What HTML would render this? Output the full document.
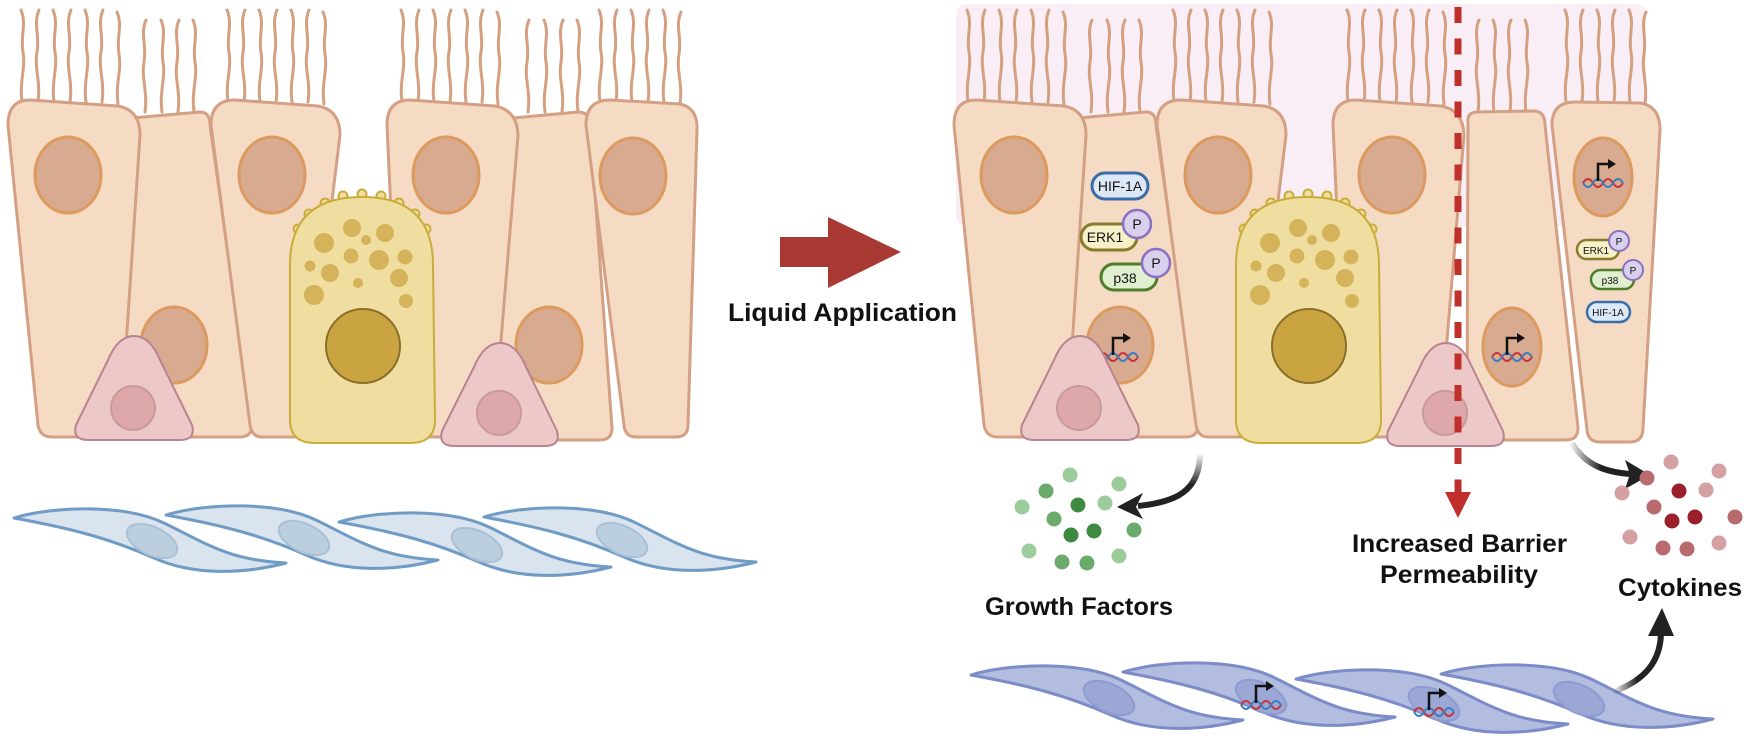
<!DOCTYPE html>
<html><head><meta charset="utf-8"><style>
html,body{margin:0;padding:0;background:#fff;}
svg{display:block;}
text{font-family:"Liberation Sans",Arial,sans-serif;font-weight:bold;fill:#111;}
</style></head><body>
<svg width="1748" height="740" viewBox="0 0 1748 740" xmlns="http://www.w3.org/2000/svg">
<defs>
<linearGradient id="fadeG" x1="0" y1="0" x2="0" y2="1"><stop offset="0" stop-color="#222" stop-opacity="0"/><stop offset="0.6" stop-color="#222"/></linearGradient>
<linearGradient id="fadeC" x1="0" y1="0" x2="1" y2="0"><stop offset="0" stop-color="#222" stop-opacity="0.1"/><stop offset="0.5" stop-color="#222"/></linearGradient>
<linearGradient id="fadeU" x1="0" y1="0" x2="1" y2="0"><stop offset="0" stop-color="#222" stop-opacity="0"/><stop offset="0.5" stop-color="#222"/></linearGradient>
<path id="ci" d="M0,0 C-3,-20 4,-34 1,-50 C-2,-66 5,-78 -1,-92" fill="none" stroke="#d4a080" stroke-width="3" stroke-linecap="round"/>
<path id="ci2" d="M0,0 C3,-20 -4,-34 -1,-50 C2,-66 -5,-78 1,-92" fill="none" stroke="#d4a080" stroke-width="3" stroke-linecap="round"/>
<g id="dna">
<path d="M-20,5 q5,-8 10,0 t10,0 t10,0 t10,0" stroke="#c8323a" stroke-width="2" fill="none"/>
<path d="M-20,5 q5,8 10,0 t10,0 t10,0 t10,0" stroke="#3a7ec0" stroke-width="2" fill="none"/>
<path d="M-5,3 V-14 H6" stroke="#111" stroke-width="2.5" fill="none"/>
<path d="M5,-19 L13,-14 L5,-9Z" fill="#111"/>
</g>
<path id="fib" d="M0,0 C40,-12 110,-14 150,5 C195,27 215,42 272,45 C230,56 180,58 140,40 C95,20 55,10 0,0 Z"/>

<g id="ciliaL">
<use href="#ci" x="22" y="102"/><use href="#ci2" x="38" y="102"/><use href="#ci" x="54" y="102"/><use href="#ci2" x="70" y="102"/><use href="#ci" x="86" y="102"/><use href="#ci2" x="102" y="102"/><use href="#ci" x="118" y="104"/>
<use href="#ci2" x="145" y="112"/><use href="#ci" x="162" y="112"/><use href="#ci2" x="178" y="112"/><use href="#ci" x="194" y="112"/>
<use href="#ci" x="228" y="102"/><use href="#ci2" x="244" y="102"/><use href="#ci" x="260" y="102"/><use href="#ci2" x="276" y="102"/><use href="#ci" x="292" y="102"/><use href="#ci2" x="308" y="102"/><use href="#ci" x="324" y="104"/>
<use href="#ci" x="402" y="102"/><use href="#ci2" x="418" y="102"/><use href="#ci" x="434" y="102"/><use href="#ci2" x="450" y="102"/><use href="#ci" x="466" y="102"/><use href="#ci2" x="482" y="102"/><use href="#ci" x="498" y="104"/>
</g>

<g id="backL" stroke-width="3" stroke-linejoin="round">
<path d="M132,118 L200,112 Q210,112 210,125 L252,425 Q252,437 240,437 L127,437 Q115,437 115,425 Z" fill="#f5dbc4" stroke="#d4a084"/>
<ellipse cx="174" cy="345" rx="33" ry="38" fill="#d8aa90" stroke="#dc9a5e"/>
</g>
<g id="frontL" stroke-width="3" stroke-linejoin="round">
<path d="M8,125 Q8,100 30,100 L118,106 Q140,110 140,135 L120,437 L52,437 Q40,437 38,425 Z" fill="#f5dbc4" stroke="#d4a084"/>
<ellipse cx="68" cy="175" rx="33" ry="38" fill="#d8aa90" stroke="#dc9a5e"/>
<path d="M211,125 Q211,100 235,100 L318,106 Q340,110 340,135 L320,300 L305,437 L262,437 Q252,437 250,425 Z" fill="#f5dbc4" stroke="#d4a084"/>
<ellipse cx="272" cy="175" rx="33" ry="38" fill="#d8aa90" stroke="#dc9a5e"/>
<path d="M387,125 Q387,100 410,100 L495,106 Q517,110 518,135 L493,437 L420,437 L395,300 Z" fill="#f5dbc4" stroke="#d4a084"/>
<ellipse cx="446" cy="175" rx="33" ry="38" fill="#d8aa90" stroke="#dc9a5e"/>
</g>
<g id="goblet">
<g fill="#f0dea0" stroke="#c9ad3a" stroke-width="2">
<circle cx="298" cy="229" r="4.5"/><circle cx="309" cy="214" r="4.5"/><circle cx="325" cy="203" r="4.5"/><circle cx="343" cy="196" r="4.5"/><circle cx="362" cy="194" r="4.5"/><circle cx="381" cy="196" r="4.5"/><circle cx="399" cy="203" r="4.5"/><circle cx="415" cy="214" r="4.5"/><circle cx="426" cy="229" r="4.5"/>
</g>
<path d="M290,265 Q290,197 362,197 Q433,197 433,265 L435,420 Q435,443 410,443 L315,443 Q290,443 290,420 Z" fill="#f0dea0" stroke="#c9ad3a" stroke-width="2"/>
<g fill="#d4b35a">
<circle cx="324" cy="243" r="10"/><circle cx="352" cy="228" r="9"/><circle cx="385" cy="233" r="9"/><circle cx="366" cy="240" r="5"/><circle cx="351" cy="256" r="7.5"/><circle cx="379" cy="260" r="10"/><circle cx="405" cy="257" r="7.5"/><circle cx="310" cy="266" r="5.5"/><circle cx="330" cy="273" r="9"/><circle cx="399" cy="278" r="9"/><circle cx="358" cy="283" r="5"/><circle cx="314" cy="295" r="10"/><circle cx="406" cy="301" r="7"/>
</g>
<ellipse cx="363" cy="346" rx="37" ry="37" fill="#c9a440" stroke="#8a6e2a" stroke-width="2"/>
</g>
<g id="pinks" stroke-width="2" stroke-linejoin="round">
<path d="M134,336 Q150,336 160,360 L192,425 Q196,440 180,440 L88,440 Q72,440 76,425 L108,360 Q118,336 134,336 Z" fill="#ecc9c8" stroke="#b98390"/>
<circle cx="133" cy="408" r="22" fill="#dea8aa" stroke="#c99a9c"/>
<path d="M500,343 Q516,343 526,367 L557,431 Q561,446 545,446 L454,446 Q438,446 442,431 L474,367 Q484,343 500,343 Z" fill="#ecc9c8" stroke="#b98390"/>
<circle cx="499" cy="413" r="22" fill="#dea8aa" stroke="#c99a9c"/>
</g>
</defs>

<use href="#ciliaL"/>
<g>
<use href="#ci2" x="528" y="112"/><use href="#ci" x="545" y="112"/><use href="#ci2" x="562" y="112"/><use href="#ci" x="578" y="112"/>
<use href="#ci" x="600" y="102"/><use href="#ci2" x="616" y="102"/><use href="#ci" x="632" y="102"/><use href="#ci2" x="648" y="102"/><use href="#ci" x="664" y="102"/><use href="#ci2" x="680" y="104"/>
</g>
<use href="#backL"/>
<g stroke-width="3" stroke-linejoin="round">
<path d="M513,118 L578,112 Q590,112 590,125 L612,428 Q612,440 600,440 L500,440 Q490,440 491,428 Z" fill="#f5dbc4" stroke="#d4a084"/>
<ellipse cx="549" cy="345" rx="33" ry="38" fill="#d8aa90" stroke="#dc9a5e"/>
</g>
<use href="#frontL"/>
<g stroke-width="3" stroke-linejoin="round">
<path d="M586,125 Q586,100 610,100 L680,104 Q698,108 697,130 L688,425 Q688,437 676,437 L636,437 Q625,437 624,425 Z" fill="#f5dbc4" stroke="#d4a084"/>
<ellipse cx="633" cy="176" rx="33" ry="38" fill="#d8aa90" stroke="#dc9a5e"/>
</g>
<use href="#goblet"/>
<use href="#pinks"/>

<g fill="#d9e4ee" stroke="#6f9bc4" stroke-width="3" stroke-linejoin="round">
<use href="#fib" x="14" y="518"/><use href="#fib" x="166" y="515"/><use href="#fib" x="339" y="522"/><use href="#fib" x="484" y="517"/>
</g>
<g fill="#bccfdf" stroke="#a9c0d6" stroke-width="2">
<ellipse cx="152" cy="541" rx="27" ry="14" transform="rotate(25 152 541)"/>
<ellipse cx="304" cy="538" rx="27" ry="14" transform="rotate(25 304 538)"/>
<ellipse cx="477" cy="545" rx="27" ry="14" transform="rotate(25 477 545)"/>
<ellipse cx="622" cy="540" rx="27" ry="14" transform="rotate(25 622 540)"/>
</g>

<path d="M780,237 H828 V217 L901,252 L828,288 V267 H780 Z" fill="#a93a33"/>
<text x="728" y="321" font-size="25" textLength="229" lengthAdjust="spacingAndGlyphs">Liquid Application</text>

<rect x="956" y="4" width="690" height="222" rx="10" fill="#f9eef5"/>
<use href="#ciliaL" x="946"/>
<g>
<use href="#ci2" x="1478" y="112"/><use href="#ci" x="1494" y="112"/><use href="#ci2" x="1510" y="112"/><use href="#ci" x="1526" y="112"/>
<use href="#ci" x="1566" y="102"/><use href="#ci2" x="1582" y="102"/><use href="#ci" x="1598" y="102"/><use href="#ci2" x="1614" y="102"/><use href="#ci" x="1630" y="102"/><use href="#ci2" x="1645" y="104"/>
</g>
<use href="#backL" x="946"/>
<use href="#frontL" x="946"/>
<g stroke-width="3" stroke-linejoin="round">
<path d="M1468,120 Q1468,112 1478,112 L1535,111 Q1545,112 1545,125 L1578,428 Q1578,440 1566,440 L1479,440 Q1467,440 1467,428 Z" fill="#f5dbc4" stroke="#d4a084"/>
<ellipse cx="1512" cy="347" rx="29" ry="39" fill="#d8aa90" stroke="#dc9a5e"/>
<path d="M1552,125 Q1552,102 1575,102 L1640,103 Q1660,106 1660,130 L1643,428 Q1643,442 1630,442 L1600,442 Q1588,442 1587,430 Z" fill="#f5dbc4" stroke="#d4a084"/>
<ellipse cx="1603" cy="177" rx="29" ry="39" fill="#d8aa90" stroke="#dc9a5e"/>
</g>
<use href="#goblet" x="946"/>
<use href="#dna" x="1118" y="352"/>
<use href="#dna" x="1512" y="352"/>
<use href="#dna" x="1603" y="178"/>
<use href="#pinks" x="946"/>

<g font-size="14">
<rect x="1092" y="173" width="56" height="26" rx="13" fill="#dce8f5" stroke="#3b6ea8" stroke-width="3"/>
<text x="1120" y="191" text-anchor="middle" style="font-weight:normal" fill="#333">HIF-1A</text>
<rect x="1081" y="224" width="56" height="26" rx="13" fill="#f5f0c8" stroke="#8a7a2c" stroke-width="3"/>
<text x="1105" y="242" text-anchor="middle" style="font-weight:normal" fill="#333">ERK1</text>
<circle cx="1137" cy="224" r="14" fill="#d9d0ee" stroke="#8b6fc2" stroke-width="2.5"/>
<text x="1137" y="229" text-anchor="middle" style="font-weight:normal" fill="#333">P</text>
<rect x="1101" y="264" width="56" height="26" rx="13" fill="#e0efcf" stroke="#4e7e2c" stroke-width="3"/>
<text x="1125" y="283" text-anchor="middle" style="font-weight:normal" fill="#333">p38</text>
<circle cx="1156" cy="263" r="14" fill="#d9d0ee" stroke="#8b6fc2" stroke-width="2.5"/>
<text x="1156" y="268" text-anchor="middle" style="font-weight:normal" fill="#333">P</text>
</g>
<g font-size="10">
<rect x="1577" y="240" width="42" height="19" rx="9.5" fill="#f5f0c8" stroke="#8a7a2c" stroke-width="2.5"/>
<text x="1596" y="254" text-anchor="middle" style="font-weight:normal" fill="#333">ERK1</text>
<circle cx="1619" cy="241" r="10" fill="#d9d0ee" stroke="#8b6fc2" stroke-width="2"/>
<text x="1619" y="245" text-anchor="middle" style="font-weight:normal" fill="#333">P</text>
<rect x="1591" y="270" width="43" height="19" rx="9.5" fill="#e0efcf" stroke="#4e7e2c" stroke-width="2.5"/>
<text x="1610" y="284" text-anchor="middle" style="font-weight:normal" fill="#333">p38</text>
<circle cx="1633" cy="270" r="10" fill="#d9d0ee" stroke="#8b6fc2" stroke-width="2"/>
<text x="1633" y="274" text-anchor="middle" style="font-weight:normal" fill="#333">P</text>
<rect x="1587" y="302" width="43" height="20" rx="10" fill="#dce8f5" stroke="#3b6ea8" stroke-width="2.5"/>
<text x="1608" y="316" text-anchor="middle" style="font-weight:normal" fill="#333">HIF-1A</text>
</g>

<line x1="1458" y1="7" x2="1458" y2="493" stroke="#c0302a" stroke-width="7" stroke-dasharray="16 15.5"/>
<path d="M1445,492 L1471,492 L1458,518 Z" fill="#c0302a"/>

<path d="M1200,453 C1200,492 1175,502 1138,506" fill="none" stroke="url(#fadeG)" stroke-width="6"/>
<path d="M1117,507 L1143,493 L1136,507 L1143,519 Z" fill="#222"/>
<g>
<circle cx="1070" cy="475" r="7.5" fill="#9ccc9c"/><circle cx="1119" cy="484" r="7.5" fill="#9ccc9c"/><circle cx="1046" cy="491" r="7.5" fill="#6aab6c"/><circle cx="1022" cy="507" r="7.5" fill="#9ccc9c"/><circle cx="1078" cy="505" r="7.5" fill="#3f8a41"/><circle cx="1105" cy="503" r="7.5" fill="#9ccc9c"/><circle cx="1054" cy="519" r="7.5" fill="#6aab6c"/><circle cx="1071" cy="535" r="7.5" fill="#3f8a41"/><circle cx="1094" cy="531" r="7.5" fill="#3f8a41"/><circle cx="1134" cy="530" r="7.5" fill="#6aab6c"/><circle cx="1029" cy="551" r="7.5" fill="#9ccc9c"/><circle cx="1062" cy="562" r="7.5" fill="#6aab6c"/><circle cx="1087" cy="563" r="7.5" fill="#6aab6c"/><circle cx="1119" cy="556" r="7.5" fill="#9ccc9c"/>
</g>
<text x="985" y="615" font-size="25" textLength="188" lengthAdjust="spacingAndGlyphs">Growth Factors</text>

<path d="M1572,443 C1585,465 1605,472 1630,474" fill="none" stroke="url(#fadeC)" stroke-width="6"/>
<path d="M1650,475 L1625,460 L1630,474 L1625,489 Z" fill="#222"/>
<g>
<circle cx="1671" cy="462" r="7.5" fill="#d4a0a2"/><circle cx="1719" cy="471" r="7.5" fill="#d4a0a2"/><circle cx="1647" cy="478" r="7.5" fill="#b86a6f"/><circle cx="1622" cy="493" r="7.5" fill="#d4a0a2"/><circle cx="1679" cy="491" r="7.5" fill="#9b1f2a"/><circle cx="1706" cy="490" r="7.5" fill="#d4a0a2"/><circle cx="1654" cy="507" r="7.5" fill="#b86a6f"/><circle cx="1672" cy="521" r="7.5" fill="#9b1f2a"/><circle cx="1695" cy="517" r="7.5" fill="#9b1f2a"/><circle cx="1735" cy="517" r="7.5" fill="#b86a6f"/><circle cx="1630" cy="537" r="7.5" fill="#d4a0a2"/><circle cx="1663" cy="548" r="7.5" fill="#b86a6f"/><circle cx="1687" cy="549" r="7.5" fill="#b86a6f"/><circle cx="1719" cy="543" r="7.5" fill="#d4a0a2"/>
</g>
<text x="1618" y="596" font-size="25" textLength="124" lengthAdjust="spacingAndGlyphs">Cytokines</text>
<text x="1352" y="552" font-size="25" textLength="215" lengthAdjust="spacingAndGlyphs">Increased Barrier</text>
<text x="1380" y="583" font-size="25" textLength="158" lengthAdjust="spacingAndGlyphs">Permeability</text>

<g fill="#b3bde0" stroke="#7b8cc8" stroke-width="3" stroke-linejoin="round">
<use href="#fib" x="971" y="675"/><use href="#fib" x="1123" y="672"/><use href="#fib" x="1296" y="679"/><use href="#fib" x="1441" y="674"/>
</g>
<g fill="#9ba7d4" stroke="#8f9bd0" stroke-width="2">
<ellipse cx="1109" cy="698" rx="27" ry="14" transform="rotate(25 1109 698)"/>
<ellipse cx="1261" cy="697" rx="27" ry="14" transform="rotate(25 1261 697)"/>
<ellipse cx="1434" cy="704" rx="27" ry="14" transform="rotate(25 1434 704)"/>
<ellipse cx="1579" cy="699" rx="27" ry="14" transform="rotate(25 1579 699)"/>
</g>
<use href="#dna" x="1261" y="700"/>
<use href="#dna" x="1434" y="707"/>
<path d="M1613,692 C1645,680 1660,662 1661,634" fill="none" stroke="url(#fadeU)" stroke-width="6"/>
<path d="M1662,608 L1674,636 L1648,636 Z" fill="#222"/>
</svg>
</body></html>
